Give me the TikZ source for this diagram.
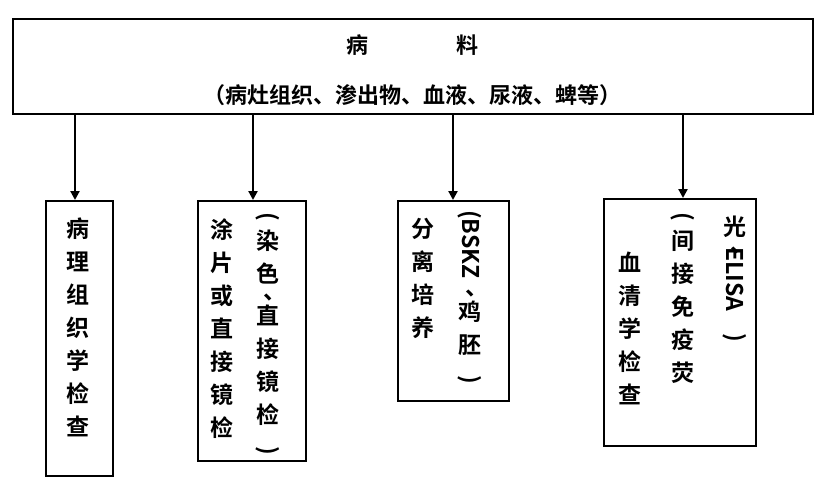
\documentclass[tikz,border=0pt]{standalone}
\usepackage{fontspec}
\newfontfamily\cjk{Noto Sans CJK SC}[BoldFont=* Bold]
\usetikzlibrary{arrows.meta}
\newcommand{\rp}[1]{\raisebox{\depth}{\rotatebox{-90}{#1}}}
\begin{document}
\begin{tikzpicture}[x=1pt,y=-1pt,
  box/.style={draw,line width=2.2pt},
  col/.style={font=\cjk\bfseries\fontsize{23}{33}\selectfont,align=center,anchor=north,inner sep=0pt},
  arr/.style={line width=2.2pt,-{Triangle[length=9pt,width=9pt]}}]
\useasboundingbox (0,0) rectangle (825,493);
\node[box,minimum width=800pt,minimum height=95pt,anchor=north west,inner sep=0pt] (top) at (12,18) {};
\node[font=\cjk\bfseries\fontsize{22}{26}\selectfont] (t1) at (412,45) {病\hspace{4em}料};
\node[font=\cjk\bfseries\fontsize{22}{26}\selectfont] (t2) at (412,95) {（病灶组织、渗出物、血液、尿液、蜱等）};
\node[box,anchor=north west,minimum width=67pt,minimum height=275pt,inner sep=0pt] (b1) at (45,200) {};
\node[box,anchor=north west,minimum width=108pt,minimum height=260pt,inner sep=0pt] (b2) at (197,200) {};
\node[box,anchor=north west,minimum width=111pt,minimum height=200pt,inner sep=0pt] (b3) at (397,200) {};
\node[box,anchor=north west,minimum width=152pt,minimum height=247pt,inner sep=0pt] (b4) at (603,198) {};
\coordinate (a1) at (75,113); \coordinate (a2) at (253,113);
\coordinate (a3) at (453,113); \coordinate (a4) at (683,113);
\draw[arr] (a1) -- (a1 |- b1.north);
\draw[arr] (a2) -- (a2 |- b2.north);
\draw[arr] (a3) -- (a3 |- b3.north);
\draw[arr] (a4) -- (a4 |- b4.north);
\node[col] (c1) at (78,218) {病\\理\\组\\织\\学\\检\\查};
\node[col] (c2a) at (222,218) {涂\\片\\或\\直\\接\\镜\\检};
\node[col] (c2b) at (268,212) {\rp{(}\\[-4pt]染\\色\\[-16pt]\hspace{0.6em}、\\[-8pt]直\\接\\镜\\检\\[-2pt]\rp{)}};
\node[col] (c3a) at (423,218) {分\\离\\培\\养};
\node[col] (c3b) at (470,210) {\rp{(BSKZ}\\[-16pt]\hspace{0.6em}、\\[-8pt]鸡\\胚\\[-2pt]\rp{)}};
\node[col] (c4a) at (630,252) {血\\清\\学\\检\\查};
\node[col] (c4b) at (683,212) {\rp{(}\\[-4pt]间\\接\\免\\疫\\荧};
\node[col] (c4c) at (735,216) {光\\[-16pt]\hspace{0.6em}、\\[-8pt]\rp{ELISA}\\[-2pt]\rp{)}};
\end{tikzpicture}
\end{document}
